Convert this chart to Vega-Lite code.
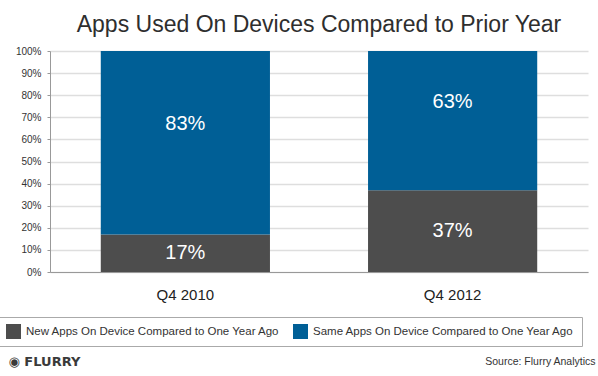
{
  "$schema": "https://vega.github.io/schema/vega-lite/v6.json",
  "autosize": "none",
  "width": 538,
  "height": 221,
  "padding": {"left": 50, "top": 51, "right": 10, "bottom": 104},
  "background": "white",
  "title": {
    "text": "Apps Used On Devices Compared to Prior Year",
    "font": "Liberation Sans",
    "fontSize": 23,
    "fontWeight": "normal",
    "color": "#2e2e2e",
    "anchor": "middle",
    "offset": 9
  },
  "data": {
    "values": [
      {"quarter": "Q4 2010", "series": "New Apps On Device Compared to One Year Ago", "value": 0.17, "order": 1},
      {"quarter": "Q4 2010", "series": "Same Apps On Device Compared to One Year Ago", "value": 0.83, "order": 2},
      {"quarter": "Q4 2012", "series": "New Apps On Device Compared to One Year Ago", "value": 0.37, "order": 1},
      {"quarter": "Q4 2012", "series": "Same Apps On Device Compared to One Year Ago", "value": 0.63, "order": 2}
    ]
  },
  "transform": [
    {"stack": "value", "groupby": ["quarter"], "sort": [{"field": "order", "order": "ascending"}], "as": ["v0", "v1"]},
    {"calculate": "(datum.v0 + datum.v1) / 2", "as": "mid"}
  ],
  "encoding": {
    "x": {
      "field": "quarter",
      "type": "nominal",
      "scale": {"paddingInner": 0.367, "paddingOuter": 0.19},
      "axis": {
        "labelAngle": 0,
        "labelFont": "Liberation Sans",
        "labelFontSize": 15,
        "labelColor": "#222",
        "labelPadding": 15,
        "ticks": false,
        "domainColor": "#999",
        "title": "Source: Flurry Analytics",
        "titleFont": "Liberation Sans",
        "titleFontSize": 10.5,
        "titleFontWeight": "normal",
        "titleColor": "#333",
        "titleAnchor": "end",
        "titleAlign": "right",
        "titleBaseline": "middle",
        "titleX": 545,
        "titleY": 89
      }
    }
  },
  "resolve": {"axis": {"y": "independent"}},
  "layer": [
    {
      "mark": {"type": "bar"},
      "encoding": {
        "y": {
          "field": "v0",
          "type": "quantitative",
          "scale": {"domain": [0, 1], "nice": false},
          "axis": {
            "values": [0, 0.1, 0.2, 0.3, 0.4, 0.5, 0.6, 0.7, 0.8, 0.9, 1],
            "labelOverlap": false,
            "format": ".0%",
            "labelFont": "Liberation Sans",
            "labelFontSize": 10,
            "labelColor": "#333",
            "labelPadding": 6,
            "tickSize": 3,
            "tickColor": "#999",
            "domainColor": "#999",
            "gridColor": "#dedede",
            "gridWidth": 1.5,
            "title": "◉ FLURRY",
            "titleFont": "DejaVu Sans, Liberation Sans",
            "titleFontSize": 13,
            "titleFontWeight": "bold",
            "titleColor": "#3a3a3a",
            "titleAngle": 0,
            "titleAlign": "left",
            "titleBaseline": "middle",
            "titleX": -42,
            "titleY": 310
          }
        },
        "y2": {"field": "v1"},
        "color": {
          "field": "series",
          "type": "nominal",
          "scale": {
            "domain": ["New Apps On Device Compared to One Year Ago", "Same Apps On Device Compared to One Year Ago"],
            "range": ["#4d4d4d", "#005f96"]
          },
          "legend": {
            "orient": "none",
            "legendX": -51,
            "legendY": 266,
            "direction": "horizontal",
            "title": null,
            "padding": 7,
            "strokeColor": "#aaa",
            "symbolType": "square",
            "symbolSize": 225,
            "symbolStrokeWidth": 0,
            "symbolOpacity": 1,
            "labelFont": "Liberation Sans",
            "labelFontSize": 11.5,
            "labelColor": "#333",
            "labelOffset": 5,
            "labelLimit": 400,
            "columnPadding": 13
          }
        }
      }
    },
    {
      "transform": [{"filter": "datum.order == 1"}],
      "mark": {"type": "text", "color": "white", "fontSize": 20, "font": "Liberation Sans", "baseline": "middle"},
      "encoding": {
        "y": {"field": "mid", "type": "quantitative", "scale": {"domain": [0, 1], "nice": false}, "axis": null},
        "text": {"field": "value", "type": "quantitative", "format": ".0%"}
      }
    },
    {
      "transform": [{"filter": "datum.order == 2"}],
      "mark": {"type": "text", "color": "white", "fontSize": 20, "font": "Liberation Sans", "baseline": "middle", "dy": -19},
      "encoding": {
        "y": {"field": "mid", "type": "quantitative", "scale": {"domain": [0, 1], "nice": false}, "axis": null},
        "text": {"field": "value", "type": "quantitative", "format": ".0%"}
      }
    }
  ],
  "config": {"view": {"stroke": null}}
}
